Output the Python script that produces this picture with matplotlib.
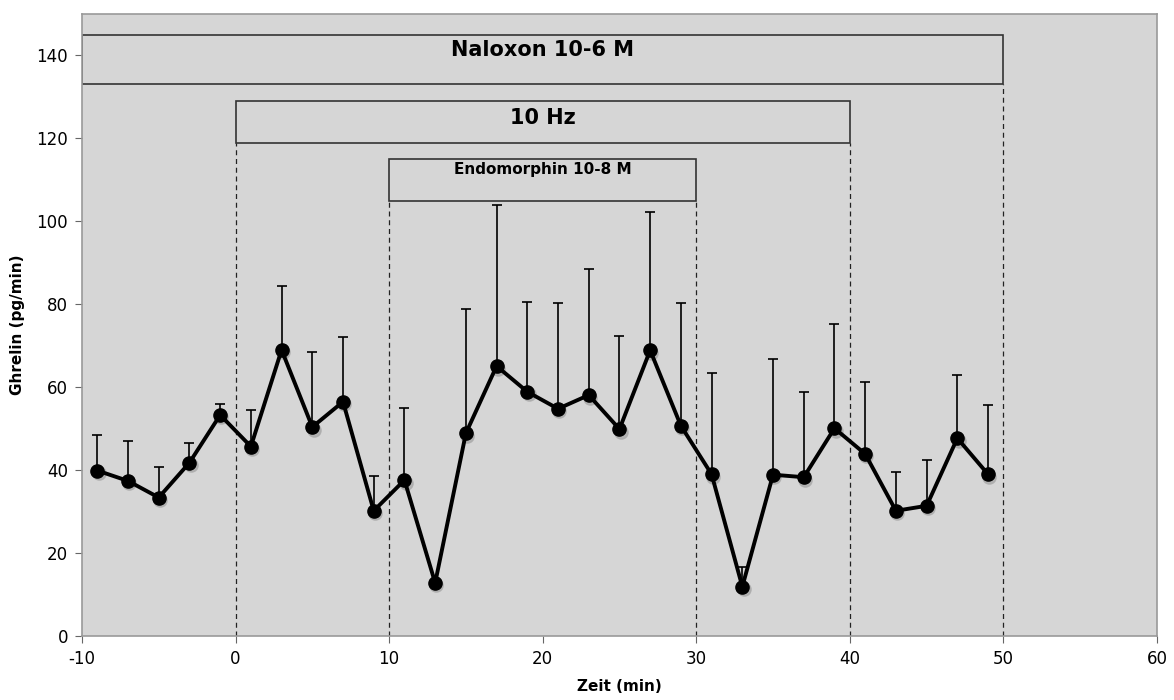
import matplotlib.pyplot as plt
from matplotlib.patches import Rectangle

plt.rcParams["axes.unicode_minus"] = False

# time points (min) and ghrelin release (pg/min), mean and upper error bar end
zeit = [-9, -7, -5, -3, -1, 1, 3, 5, 7, 9, 11, 13, 15, 17, 19, 21, 23, 25, 27, 29,
        31, 33, 35, 37, 39, 41, 43, 45, 47, 49]
ghrelin = [39.9, 37.4, 33.4, 41.8, 53.3, 45.7, 69.0, 50.4, 56.5, 30.2,
           37.6, 12.8, 48.9, 65.1, 58.9, 54.8, 58.1, 49.9, 68.9, 50.7,
           39.0, 11.9, 38.9, 38.3, 50.1, 43.9, 30.2, 31.4, 47.7, 39.0]
err_top = [48.5, 47.0, 40.7, 46.5, 56.0, 54.4, 84.5, 68.5, 72.0, 38.6,
           55.0, 12.8, 78.9, 103.9, 80.6, 80.4, 88.4, 72.4, 102.3, 80.3,
           63.4, 16.7, 66.7, 58.8, 75.3, 61.2, 39.5, 42.4, 63.0, 55.8]

# treatment periods: label, start, end, box bottom, box top
labels = ["Naloxon 10-6 M", "10 Hz", "Endomorphin 10-8 M"]
starts = [-10, 0, 10]
ends = [50, 40, 30]
box_lo = [133, 119, 105]
box_hi = [145, 129, 115]
label_y = [141.3, 124.8, 112.6]
label_size = [15, 15, 11]

fig = plt.figure(figsize=(11.74, 7), dpi=100)
ax = fig.add_axes([0.0698, 0.0914, 0.9157, 0.8886])
ax.set_facecolor("#d6d6d6")

for lab, s, e, lo, hi, ty, fs in zip(labels, starts, ends, box_lo, box_hi, label_y, label_size):
    ax.add_patch(Rectangle((s, lo), e - s, hi - lo, facecolor="none",
                           edgecolor="#333333", linewidth=1.2, zorder=2))
    ax.text((s + e) / 2, ty, lab, ha="center", va="center", fontsize=fs,
            fontweight="bold", zorder=3)
    for x in (s, e):
        if x > -10:
            ax.plot([x, x], [0, lo], color="#222222", linestyle=(0, (4, 3)),
                    linewidth=0.9, zorder=2)

upper = [t - m for t, m in zip(err_top, ghrelin)]
ax.errorbar(zeit, ghrelin, yerr=[[0] * len(upper), upper], fmt="none",
            ecolor="black", elinewidth=1.2, capsize=3.5, capthick=1.2, zorder=3)
# soft shadow under the markers
ax.plot([z + 0.08 for z in zeit], [g - 0.6 for g in ghrelin], "o", color="#aaaaaa",
        markersize=9.5, zorder=3.5, alpha=0.8)
ax.plot(zeit, ghrelin, "-o", color="black", linewidth=2.8, markersize=9.5, zorder=4)

ax.set_xlim(-10, 60)
ax.set_ylim(0, 150)
ax.set_xticks(range(-10, 61, 10))
ax.set_yticks(range(0, 141, 20))
ax.tick_params(labelsize=12, color="#666666", length=5, pad=5)
for sp in ax.spines.values():
    sp.set_color("#999999")
    sp.set_linewidth(1.2)

ax.set_xlabel("Zeit (min)", fontsize=11, fontweight="bold", labelpad=8)
ax.set_ylabel("Ghrelin (pg/min)", fontsize=11, fontweight="bold", labelpad=8)

fig.savefig("out.png", dpi=100)
